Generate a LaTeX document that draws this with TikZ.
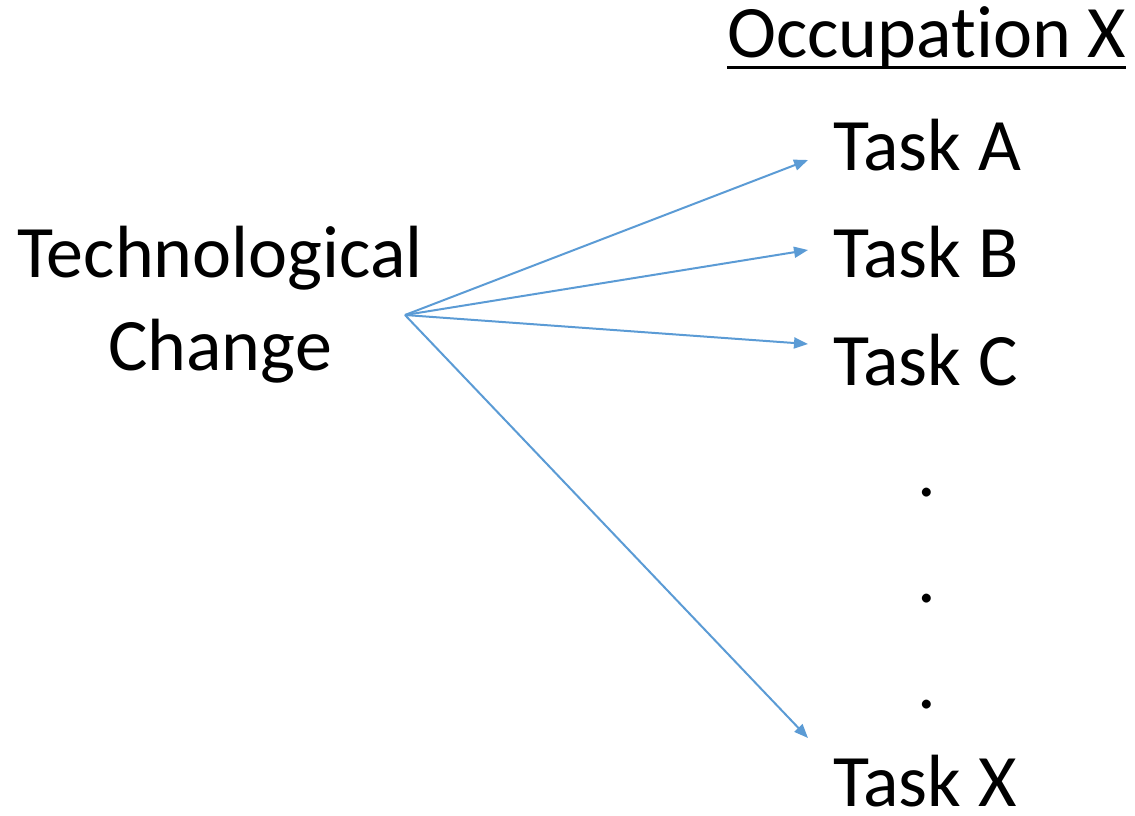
\documentclass[tikz,border=0pt]{standalone}
\usepackage{fontspec}
\setmainfont[Ligatures=NoCommon]{Carlito}
\usetikzlibrary{arrows.meta,positioning}
\definecolor{arrowblue}{HTML}{5B9BD5}

\begin{document}
\begin{tikzpicture}[x=1pt,y=-1pt,
		lbl/.style={inner sep=0pt,anchor=base west,font=\fontsize{74}{93}\selectfont},
		arr/.style={-{Triangle[length=14pt,width=11pt]},draw=arrowblue,fill=arrowblue,line width=2pt}]
			\useasboundingbox (0,0) rectangle (1135,816);
			\node[lbl] (occ) at (727,58) {Occupat\kern0pt ion X};
			\draw[line width=3pt] ([yshift=-10pt]occ.base west) -- ([yshift=-10pt]occ.base east);
			\node[lbl] (ta) at (833,170) {Task A};
			\node[lbl] (tb) at (833,277) {Task B};
			\node[lbl] (tc) at (833,385) {Task C};
			\node[lbl,anchor=base] (d1) at (927,496) {.};
			\node[lbl,anchor=base] (d2) at (927,602) {.};
			\node[lbl,anchor=base] (d3) at (927,708) {.};
			\node[lbl] (tx) at (833,806) {Task X};
			\node[lbl,anchor=base,align=center] (tech) at (220,370) {Technological\\Change};
			\coordinate (src) at (405,315);
			\coordinate (ea) at (808,160);
			\coordinate (eb) at (808,250);
			\coordinate (ec) at (808,344);
			\coordinate (ex) at (808,738);
			\draw[arr] (src) -- (ea);
			\draw[arr] (src) -- (eb);
			\draw[arr] (src) -- (ec);
			\draw[arr] (src) -- (ex);
		\end{tikzpicture}
\end{document}
